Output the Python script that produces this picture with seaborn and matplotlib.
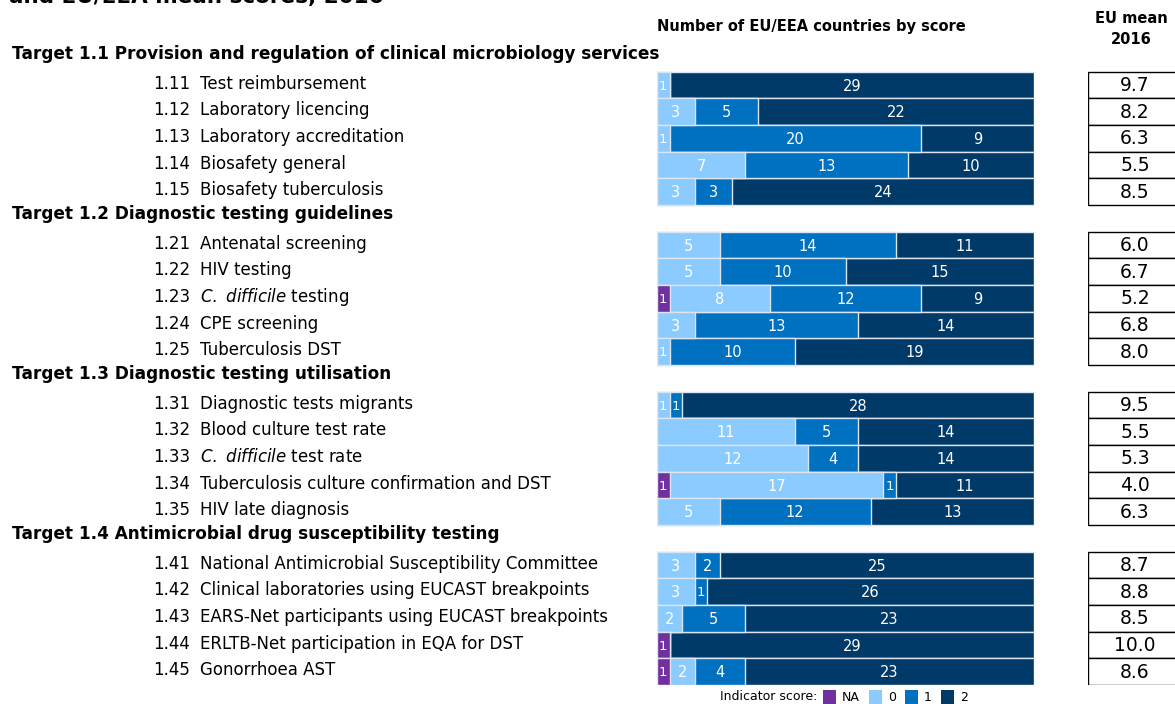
import matplotlib.pyplot as plt
import matplotlib.transforms as mtransforms
from matplotlib.patches import Patch
import seaborn as sns
import pandas as pd

# Dane wskaźników (liczba krajów wg oceny) i średnie UE
targets = ["1.1", "1.2", "1.3", "1.4"]
target_names = [
    "Target 1.1 Provision and regulation of clinical microbiology services",
    "Target 1.2 Diagnostic testing guidelines",
    "Target 1.3 Diagnostic testing utilisation",
    "Target 1.4 Antimicrobial drug susceptibility testing",
]
codes = ["1.11", "1.12", "1.13", "1.14", "1.15",
         "1.21", "1.22", "1.23", "1.24", "1.25",
         "1.31", "1.32", "1.33", "1.34", "1.35",
         "1.41", "1.42", "1.43", "1.44", "1.45"]
names = ["Test reimbursement", "Laboratory licencing", "Laboratory accreditation",
         "Biosafety general", "Biosafety tuberculosis",
         "Antenatal screening", "HIV testing", r"$\it{C.\ difficile}$ testing",
         "CPE screening", "Tuberculosis DST",
         "Diagnostic tests migrants", "Blood culture test rate",
         r"$\it{C.\ difficile}$ test rate",
         "Tuberculosis culture confirmation and DST", "HIV late diagnosis",
         "National Antimicrobial Susceptibility Committee",
         "Clinical laboratories using EUCAST breakpoints",
         "EARS-Net participants using EUCAST breakpoints",
         "ERLTB-Net participation in EQA for DST", "Gonorrhoea AST"]
na_counts = [0, 0, 0, 0, 0, 0, 0, 1, 0, 0, 0, 0, 0, 1, 0, 0, 0, 0, 1, 1]
zero_counts = [1, 3, 1, 7, 3, 5, 5, 8, 3, 1, 1, 11, 12, 17, 5, 3, 3, 2, 0, 2]
one_counts = [0, 5, 20, 13, 3, 14, 10, 12, 13, 10, 1, 5, 4, 1, 12, 2, 1, 5, 0, 4]
two_counts = [29, 22, 9, 10, 24, 11, 15, 9, 14, 19, 28, 14, 14, 11, 13, 25, 26, 23, 29, 23]
eu_mean = [9.7, 8.2, 6.3, 5.5, 8.5, 6.0, 6.7, 5.2, 6.8, 8.0,
           9.5, 5.5, 5.3, 4.0, 6.3, 8.7, 8.8, 8.5, 10.0, 8.6]

score_labels = ["NA", "0", "1", "2"]
score_colors = ["#7030a0", "#8ccbff", "#0070c0", "#003a69"]

df = pd.DataFrame({"code": codes, "name": names, "NA": na_counts, "0": zero_counts,
                   "1": one_counts, "2": two_counts, "mean": eu_mean, "box": 1})
cum = df[score_labels].cumsum(axis=1)

# kolejność wierszy: nagłówek celu, potem jego wskaźniki
rows = []
for t in targets:
    rows.append("T" + t)
    rows += [c for c in codes if c[:3] == t]

W, H = 1175, 704
fig = plt.figure(figsize=(W / 100, H / 100), dpi=100)
plt.rcParams["font.family"] = ["DejaVu Sans"]

bottom = 1 - 685 / H
height = (685 - 45) / H
ax = fig.add_axes([657 / W, bottom, (1034 - 657) / W, height])

# słupki skumulowane - od najdłuższego do najkrótszego
for i in range(3, -1, -1):
    sns.barplot(x=cum[score_labels[i]], y=df["code"], order=rows, orient="h",
                color=score_colors[i], saturation=1, edgecolor="#dce4ee",
                linewidth=1, width=0.99, ax=ax)
ax.set_xlim(0, 30)
ax.set_ylim(len(rows) - 0.5, -0.5)
ax.axis("off")

for _, r in df.iterrows():
    y = rows.index(r["code"])
    left = 0
    for s in score_labels:
        n = r[s]
        if n > 0:
            ax.text(left + n / 2, y + 0.04, str(n), ha="center", va="center",
                    color="white", fontsize=10.5 if n > 1 else 9.5)
        left += n

# etykiety po lewej
tr = mtransforms.blended_transform_factory(fig.transFigure, ax.transData)
for t, tn in zip(targets, target_names):
    ax.text(12 / W, rows.index("T" + t) - 0.15, tn, transform=tr, fontsize=12.2,
            fontweight="bold", va="center", ha="left", clip_on=False)
for c, nm in zip(codes, names):
    y = rows.index(c) - 0.05
    ax.text(153 / W, y, c, transform=tr, fontsize=12, va="center", clip_on=False)
    ax.text(200 / W, y, nm, transform=tr, fontsize=12, va="center", clip_on=False)

# tabela średnich
tab = fig.add_axes([1088 / W, bottom, 0.1, height])
sns.barplot(x=df["box"], y=df["code"], order=rows, orient="h", color="white",
            saturation=1, edgecolor="black", linewidth=1, width=1.0, ax=tab)
tab.set_xlim(0, 1)
tab.set_ylim(len(rows) - 0.5, -0.5)
tab.axis("off")
for c, m in zip(codes, eu_mean):
    tab.text(0.40, rows.index(c) + 0.02, f"{m:.1f}", ha="center", va="center",
             fontsize=13.5)

# nagłówki
fig.text(9 / W, 1 - 3.5 / H, "and EU/EEA mean scores, 2016", fontsize=15.5,
         fontweight="bold", va="baseline")
fig.text(811 / W, 1 - 27 / H, "Number of EU/EEA countries by score", fontsize=10.5,
         fontweight="bold", ha="center", va="center")
fig.text(1131 / W, 1 - 29 / H, "EU mean\n2016", fontsize=10.5, fontweight="bold",
         ha="center", va="center", linespacing=1.45)

# legenda
fig.text(720 / W, 1 - 697 / H, "Indicator score:", fontsize=9, va="center")
handles = [Patch(facecolor=col, edgecolor="none") for col in score_colors]
fig.legend(handles, score_labels, ncol=4, loc="center left",
           bbox_to_anchor=(823 / W, 1 - 697 / H), frameon=False, fontsize=9,
           handlelength=1.0, handleheight=1.45, handletextpad=0.5,
           columnspacing=0.75, borderpad=0, borderaxespad=0)

fig.savefig("out.png", dpi=100)
